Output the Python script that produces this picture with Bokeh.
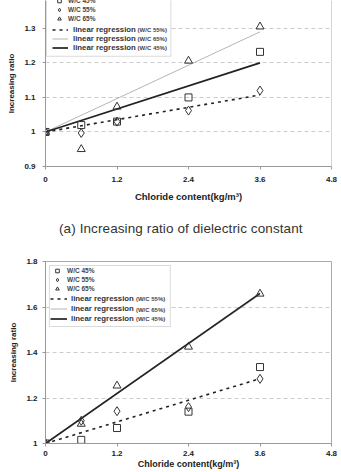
from bokeh.plotting import figure
from bokeh.models import Legend, LegendItem, BoxAnnotation, Label, Span, FixedTicker, Range1d, Div
from bokeh.layouts import column
from bokeh.embed import file_html
from bokeh.resources import INLINE

# ---------------- data ----------------
x_vals = [0, 0.6, 1.2, 2.4, 3.6]

top_wc45 = [1.0, 1.02, 1.03, 1.10, 1.232]
top_wc55 = [1.0, 0.997, 1.03, 1.062, 1.12]
top_wc65 = [1.0, 0.95, 1.073, 1.206, 1.305]

bot_wc45 = [1.0, 1.016, 1.068, 1.14, 1.336]
bot_wc55 = [1.0, 1.10, 1.142, 1.16, 1.284]
bot_wc65 = [1.0, 1.086, 1.254, 1.425, 1.658]

reg_x = [0, 3.6]
top_reg55 = [1.0, 1.107]
top_reg65 = [1.0, 1.29]
top_reg45 = [1.0, 1.2]
bot_reg55 = [1.0, 1.285]
bot_reg65 = [1.0, 1.655]
bot_reg45 = [1.0, 1.66]

x_ticks = [0, 1.2, 2.4, 3.6, 4.8]
x_tick_labels = ["0", "1.2", "2.4", "3.6", "4.8"]
top_y_ticks = [0.9, 1.0, 1.1, 1.2, 1.3, 1.4]
top_y_tick_labels = ["0.9", "1", "1.1", "1.2", "1.3", "1.4"]
bot_y_ticks = [1.0, 1.2, 1.4, 1.6, 1.8]
bot_y_tick_labels = ["1", "1.2", "1.4", "1.6", "1.8"]

series_labels = ["W/C 45%", "W/C 55%", "W/C 65%"]
reg_label = "linear regression"
reg_suffix = ["(W/C 55%)", "(W/C 65%)", "(W/C 45%)"]
x_title = "Chloride content(kg/m\u00b3)"
y_title = "Increasing ratio"
caption = "(a) Increasing ratio of dielectric constant"

FONT = "Liberation Sans"
AX = "#999999"
INK = "#333333"


def make_chart(height, y_range, y_ticks, y_labels, s45, s55, s65, r55, r65, r45,
               borders, outline, leg, box, suffix_pos, ylab_standoff, xlab_standoff,
               xtitle_standoff, xtitle_size):
    p = figure(width=341, height=height, x_range=Range1d(0, 4.8), y_range=Range1d(*y_range),
               output_backend="svg", toolbar_location=None,
               min_border_top=borders[0], min_border_right=borders[1],
               min_border_bottom=borders[2], min_border_left=borders[3])
    p.background_fill_color = "white"
    p.border_fill_color = "white"
    p.outline_line_color = "#aaaaaa" if outline else None

    p.xaxis.ticker = FixedTicker(ticks=x_ticks)
    p.xaxis.major_label_overrides = {t: l for t, l in zip(x_ticks, x_tick_labels)}
    p.yaxis.ticker = FixedTicker(ticks=y_ticks)
    p.yaxis.major_label_overrides = {t: l for t, l in zip(y_ticks, y_labels)}
    for ax in (p.xaxis[0], p.yaxis[0]):
        ax.axis_line_color = AX
        ax.major_tick_line_color = AX
        ax.major_tick_out = 3
        ax.major_tick_in = 0
        ax.minor_tick_line_color = None
        ax.major_label_text_font = FONT
        ax.major_label_text_font_style = "bold"
        ax.major_label_text_font_size = "8px"
        ax.major_label_text_color = "#222222"
        ax.axis_label_text_font = FONT
        ax.axis_label_text_font_style = "bold"
        ax.axis_label_text_color = "#222222"
    p.xaxis.axis_label = x_title
    p.xaxis.axis_label_text_font_size = xtitle_size
    p.xaxis.major_label_standoff = xlab_standoff
    p.xaxis.axis_label_standoff = xtitle_standoff
    p.yaxis.axis_label = y_title
    p.yaxis.axis_label_text_font_size = "8px"
    p.yaxis.major_label_standoff = ylab_standoff
    p.yaxis.axis_label_standoff = 5

    p.xgrid.visible = False
    p.ygrid.ticker = FixedTicker(ticks=y_ticks)
    p.ygrid.grid_line_color = "#cccccc"
    p.ygrid.grid_line_dash = "4 3"

    # legend frame (drawn first)
    p.add_layout(BoxAnnotation(left=box[0], right=box[1], top=box[2], bottom=box[3],
                               fill_color="white", fill_alpha=1.0,
                               line_color="#888888", line_width=1))

    g65 = p.line(reg_x, r65, line_color="#b5b5b5", line_width=1)
    g55 = p.line(reg_x, r55, line_color="#222222", line_width=1.6, line_dash="3 4")
    g45 = p.line(reg_x, r45, line_color="#222222", line_width=1.7)

    m45 = p.scatter(x_vals, s45, marker="square", size=7, fill_color=None, line_color=INK, line_width=1)
    m55 = p.scatter(x_vals, s55, marker="diamond", size=9, fill_color=None, line_color=INK, line_width=1)
    m65 = p.scatter(x_vals, s65, marker="triangle", size=8, fill_color=None, line_color=INK, line_width=1)

    mk_leg = Legend(items=[LegendItem(label=series_labels[0], renderers=[m45]),
                           LegendItem(label=series_labels[1], renderers=[m55]),
                           LegendItem(label=series_labels[2], renderers=[m65])],
                    location=leg["mk_loc"], padding=0, margin=0, spacing=0,
                    glyph_width=leg["mk_gw"], glyph_height=leg["mk_rh"], label_height=leg["mk_rh"],
                    label_standoff=leg["mk_so"],
                    label_text_font=FONT, label_text_font_style="bold",
                    label_text_font_size="6.5px", label_text_color="#444444",
                    label_text_baseline="middle",
                    border_line_alpha=0, background_fill_alpha=0)
    ln_leg = Legend(items=[LegendItem(label=reg_label, renderers=[g55]),
                           LegendItem(label=reg_label, renderers=[g65]),
                           LegendItem(label=reg_label, renderers=[g45])],
                    location=leg["ln_loc"], padding=0, margin=0, spacing=leg["ln_sp"],
                    glyph_width=leg["ln_gw"], glyph_height=leg["ln_rh"], label_height=leg["ln_rh"],
                    label_standoff=leg["ln_so"],
                    label_text_font=FONT, label_text_font_style="bold",
                    label_text_font_size="7.8px", label_text_color="#333333",
                    label_text_baseline="middle",
                    border_line_alpha=0, background_fill_alpha=0)
    p.add_layout(mk_leg)
    p.add_layout(ln_leg)

    sx, sys_ = suffix_pos
    for txt, yy in zip(reg_suffix, sys_):
        p.add_layout(Label(x=sx, y=yy, text=txt, text_font=FONT, text_font_style="bold",
                           text_font_size="6px", text_color="#444444",
                           text_baseline="middle", y_offset=-1))
    return p


top = make_chart(
    height=207, y_range=(0.9, 1.3808), y_ticks=top_y_ticks, y_labels=top_y_tick_labels,
    s45=top_wc45, s55=top_wc55, s65=top_wc65, r55=top_reg55, r65=top_reg65, r45=top_reg45,
    borders=(0, 4, 41, 45), outline=False,
    leg=dict(mk_loc=(7, 143.5), mk_gw=14, mk_rh=9, mk_so=2,
             ln_loc=(7, 114.5), ln_gw=16, ln_rh=9, ln_sp=0, ln_so=5),
    box=(0.016, 2.104, 1.45, 1.2193),
    suffix_pos=(1.545, [1.2972, 1.2712, 1.2452]),
    ylab_standoff=7, xlab_standoff=7, xtitle_standoff=6, xtitle_size="9.5px")
top.add_layout(Span(location=4.8, dimension="height", line_color="#aaaaaa", line_width=1))

cap = Div(text=('<div style="padding-top:14px;padding-left:59px;line-height:16px;height:16px;'
                'text-align:left;font-family:\'Liberation Sans\';font-size:13.5px;'
                'letter-spacing:0.1px;color:#333333;white-space:nowrap">' + caption + '</div>'),
          width=341, height=38, margin=0)

bottom = make_chart(
    height=227, y_range=(1.0, 1.8), y_ticks=bot_y_ticks, y_labels=bot_y_tick_labels,
    s45=bot_wc45, s55=bot_wc55, s65=bot_wc65, r55=bot_reg55, r65=bot_reg65, r45=bot_reg45,
    borders=(16, 10, 29, 40), outline=True,
    leg=dict(mk_loc=(5, 150.5), mk_gw=14, mk_rh=9, mk_so=3,
             ln_loc=(5, 120.5), ln_gw=17, ln_rh=9, ln_sp=1, ln_so=4),
    box=(0.066, 2.095, 1.7824, 1.5143),
    suffix_pos=(1.518, [1.6374, 1.5934, 1.5495]),
    ylab_standoff=5, xlab_standoff=4, xtitle_standoff=0, xtitle_size="9px")

layout = column(top, cap, bottom, spacing=0)
open("out.html", "w").write(file_html(layout, INLINE))
